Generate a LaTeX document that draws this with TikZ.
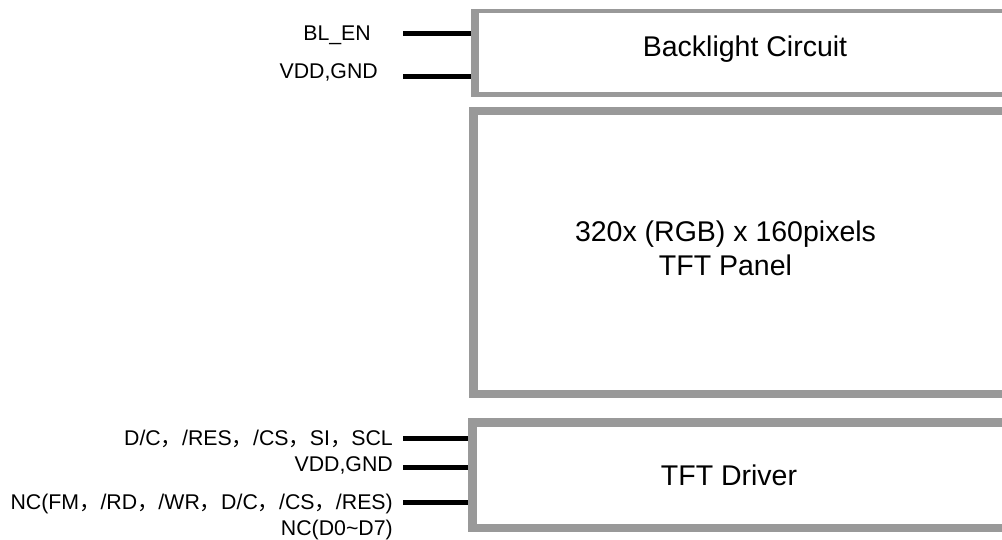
\documentclass[tikz,border=0pt]{standalone}
\usepackage{fontspec}
\setmainfont{Liberation Sans}
\newfontfamily\cjk{Noto Sans CJK SC}
\usetikzlibrary{positioning}
\newcommand{\fc}{{\cjk ，}}
\definecolor{framegray}{RGB}{153,153,153}
\tikzset{
	frame/.style={draw=framegray, inner sep=0pt, anchor=north west},
	stub/.style={line width=5pt, draw=black},
	pin/.style={font=\fontsize{21.3}{25}\selectfont, inner sep=0pt, anchor=base east},
	title/.style={font=\fontsize{28.5}{34}\selectfont, inner sep=0pt, align=center}
}

\begin{document}
\begin{tikzpicture}[x=1pt, y=-1pt]
			%%%%% START %%%%%
			
			\fill[white] (0, 0) rectangle (1002, 540);
			\clip (0, 0) rectangle (1002, 540);
			
			% blocks
			\node[frame, line width=4.5pt, minimum width=534.5pt, minimum height=83.5pt] (backlight) at (471, 9) {};
			\node[frame, line width=8.5pt, minimum width=532.5pt, minimum height=282.5pt] (panel) at (469, 107) {};
			\node[frame, line width=8.5pt, minimum width=533.5pt, minimum height=105.5pt] (driver) at (468, 418) {};
			\fill[framegray] (backlight.north west) rectangle ([xshift=8pt]backlight.south west);
			
			\node[title, anchor=base] (bltext) at (745, 56.7) {Backlight Circuit};
			\node[title] (paneltext) at (725.5, 248) {320x (RGB) x 160pixels\\TFT Panel};
			\node[title, anchor=base] (drivertext) at (729, 485) {TFT Driver};
			
			% pins
			\coordinate (blen) at (403, 34);
			\coordinate (blpwr) at (403, 77);
			\coordinate (spi) at (403, 438);
			\coordinate (drvpwr) at (403, 467);
			\coordinate (nc) at (403, 502);
			
			\draw[stub] (blen) -- (blen -| backlight.west);
			\draw[stub] (blpwr) -- (blpwr -| backlight.west);
			\draw[stub] (spi) -- (spi -| driver.west);
			\draw[stub] (drvpwr) -- (drvpwr -| driver.west);
			\draw[stub] (nc) -- (nc -| driver.west);
			
			\node[pin] (blenlabel) at (371, 40.5) {BL\_EN};
			\node[pin] (blpwrlabel) at (378, 79) {VDD,GND};
			\node[pin] (spilabel) at (393, 445) {D/C\fc /RES\fc /CS\fc SI\fc SCL};
			\node[pin] (drvpwrlabel) at (393, 471) {VDD,GND};
			\node[pin] (nclabel) at (393, 509) {NC(FM\fc /RD\fc /WR\fc D/C\fc /CS\fc /RES)};
			\node[pin] (nclabel2) at (393, 535) {NC(D0\textasciitilde D7)};
			
			%%%%% END %%%%%
\end{tikzpicture}
\end{document}
